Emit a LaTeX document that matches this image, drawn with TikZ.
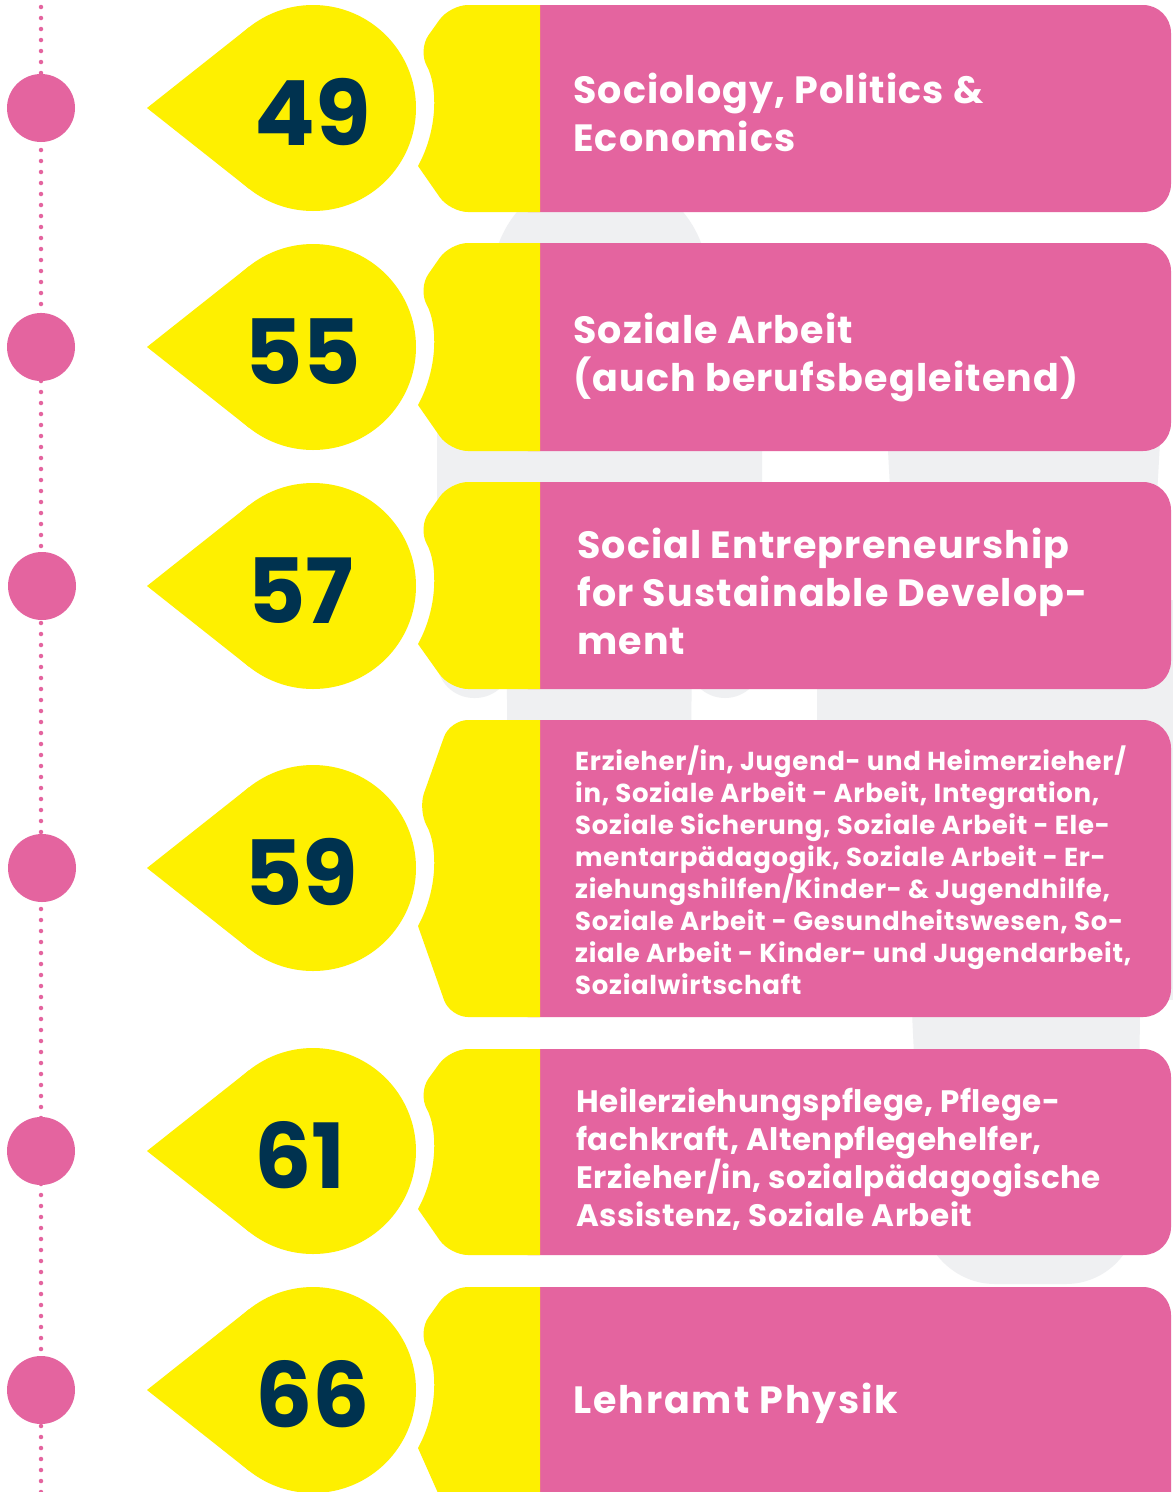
\documentclass[tikz,border=0pt]{standalone}
\usepackage{fontspec}
\setmainfont{Poppins}
\definecolor{pk}{HTML}{E4649F}
\definecolor{yl}{HTML}{FEF000}
\definecolor{nv}{HTML}{00324F}
\definecolor{bgg}{HTML}{EFF0F2}
\newcommand\mylines[2]{\vtop{\baselineskip=#1\lineskiplimit=-1000pt\relax #2}}
% #1 cy, #2 top, #3 bottom
\newcommand\rowshapes[3]{%
  \fill[pk, rounded corners=28] (500,#2) rectangle (1171,#3);
  \fill[yl] (540,#2) [rounded corners=18] -- (450,#2) -- (418,{#1-58}) [sharp corners]
     arc[start angle=-28.9,end angle=28.9,radius=120]
     [rounded corners=18] -- (450,#3) [sharp corners] -- (540,#3) -- cycle;
  \fill[yl] (313,#1) circle[radius=103];
  \fill[yl] (147,#1) -- (249.1,{#1-80.8}) -- (313,#1) -- (249.1,{#1+80.8}) -- cycle;
}
\begin{document}
\begin{tikzpicture}[x=1pt,y=-1pt,
  num/.style={font=\fontsize{90}{90}\selectfont\bfseries, text=nv, anchor=base west, inner sep=0},
  big/.style={font=\fontsize{38}{48}\selectfont\bfseries\addfontfeatures{LetterSpace=3}, text=white, anchor=base west, inner sep=0},
  small/.style={font=\fontsize{26}{32}\selectfont\bfseries\addfontfeatures{LetterSpace=2.7}, text=white, anchor=base west, inner sep=0},
  mid/.style={font=\fontsize{31}{38}\selectfont\bfseries\addfontfeatures{LetterSpace=1.7}, text=white, anchor=base west, inner sep=0},
  marker/.style={circle, fill=pk, minimum size=68, inner sep=0}]
\useasboundingbox (0,0) rectangle (1173,1492);
\clip (0,0) rectangle (1173,1492);
\fill[white] (0,0) rectangle (1173,1492);
% background silhouettes
\begin{scope}[bgg]
  \fill[bgg] (600,281) circle[radius=108];
  \fill[bgg] (437,380) rectangle (762,660);
  \fill[bgg, rounded corners=37] (437,360) rectangle (512,698);
  \fill[bgg, rounded corners=37] (688,360) rectangle (762,698);
  \fill[bgg] (506,600) -- (692,600) -- (690,1000) -- (510,1000) -- cycle;
  \fill[bgg, rounded corners=30] (880,300) -- (1168,300) -- (1150,620) -- (897,620) -- cycle;
  \fill[bgg] (817,600) rectangle (1190,1000);
  \fill[bgg, rounded corners=70] (909,950) -- (1141,950) -- (1136,1284) -- (925,1284) -- cycle;
\end{scope}
% dotted timeline
\draw[pk, line width=4.5, line cap=round, dash pattern=on 0pt off 11pt] (41,7) -- (41,1500);
\node[marker] (m1) at (41,108) {};
\node[marker] (m2) at (41,347) {};
\node[marker] (m3) at (42,586) {};
\node[marker] (m4) at (42,868) {};
\node[marker] (m5) at (41,1151) {};
\node[marker] (m6) at (41,1390) {};
% rows
\rowshapes{108}{5}{212}
\rowshapes{347}{243}{451}
\rowshapes{586}{482}{689}
\rowshapes{868}{720}{1017}
\rowshapes{1151}{1049}{1255}
\rowshapes{1390}{1287}{1520}
% numbers
\node[num] (n1) at (254,145) {49};
\node[num] (n2) at (244,384) {55};
\node[num] (n3) at (247,623) {57};
\node[num] (n4) at (244,905) {59};
\node[num] (n5) at (254,1188) {61};
\node[num] (n6) at (255,1427) {66};
% labels
\node[big] (t1) at (573,103) {\mylines{48pt}{\hbox{Sociology, Politics \&}\hbox{Economics}}};
\node[big] (t2) at (573,343) {\mylines{48pt}{\hbox{Soziale Arbeit}\hbox{(auch berufsbegleitend)}}};
\node[big] (t3) at (577,558) {\mylines{48pt}{\hbox{Social Entrepreneurship}\hbox{for Sustainable Develop-}\hbox{ment}}};
\node[small] (t4) at (575,770) {\mylines{32pt}{%
  \hbox{Erzieher/in, Jugend- und Heimerzieher/}%
  \hbox{in, Soziale Arbeit - Arbeit, Integration,}%
  \hbox{Soziale Sicherung, Soziale Arbeit - Ele-}%
  \hbox{mentarpädagogik, Soziale Arbeit - Er-}%
  \hbox{ziehungshilfen/Kinder- \& Jugendhilfe,}%
  \hbox{Soziale Arbeit - Gesundheitswesen, So-}%
  \hbox{ziale Arbeit - Kinder- und Jugendarbeit,}%
  \hbox{Sozialwirtschaft}}};
\node[mid] (t5) at (576,1112) {\mylines{38pt}{%
  \hbox{Heilerziehungspflege, Pflege-}%
  \hbox{fachkraft, Altenpflegehelfer,}%
  \hbox{Erzieher/in, sozialpädagogische}%
  \hbox{Assistenz, Soziale Arbeit}}};
\node[big, font=\fontsize{38}{48}\selectfont\bfseries\addfontfeatures{LetterSpace=5}] (t6) at (573,1413) {Lehramt Physik};
\end{tikzpicture}
\end{document}
